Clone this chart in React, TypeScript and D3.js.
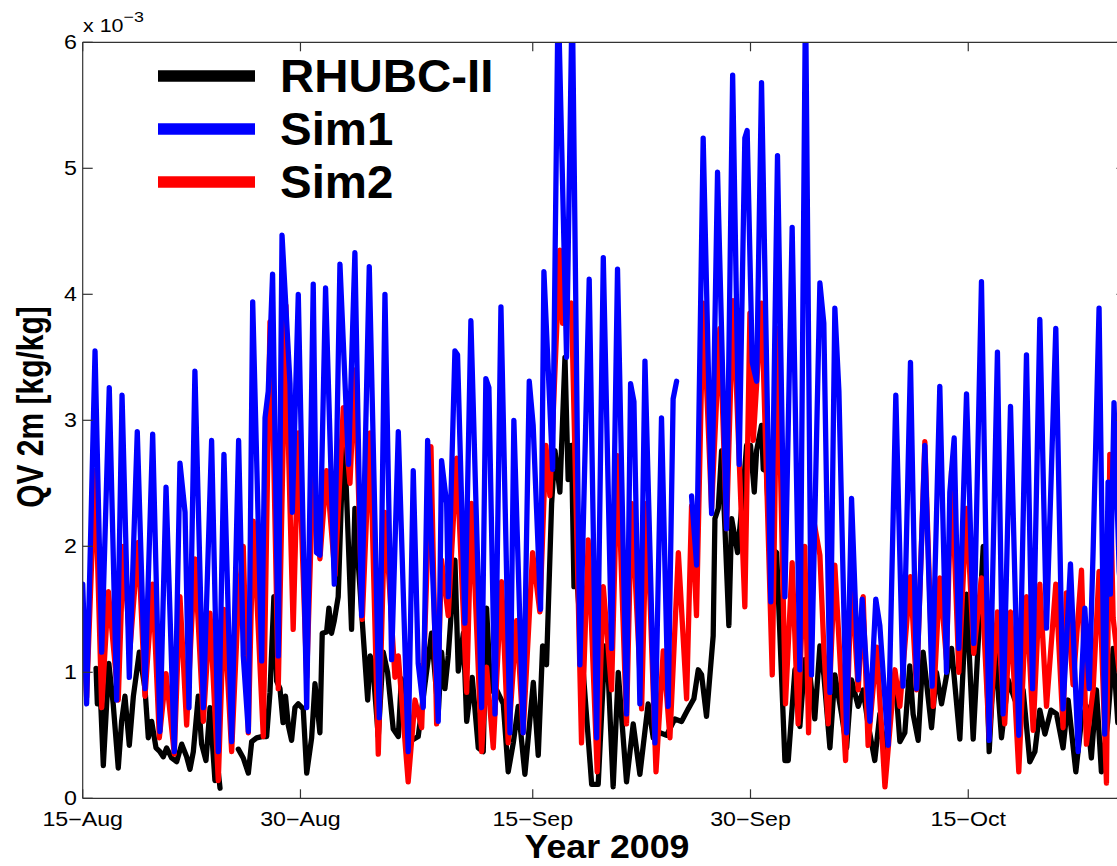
import React from 'react';
import * as d3 from 'd3';

// ---- data (values in units of 1e-3 kg/kg; time in days since 15-Aug-2009 00:00 UTC) ----
const START_UTC = Date.UTC(2009, 7, 15);
const X_END_DAYS = 71.9;

const Y_TICKS = [0, 1, 2, 3, 4, 5, 6];
const X_TICK_DATES = ['2009-08-15', '2009-08-30', '2009-09-15', '2009-09-30', '2009-10-15'];
const X_TICK_LABELS = ['15\u2212Aug', '30\u2212Aug', '15\u2212Sep', '30\u2212Sep', '15\u2212Oct'];
const SERIES_NAMES = ['RHUBC-II', 'Sim1', 'Sim2'];
const SERIES_COLORS = ['#000000', '#0000ff', '#ff0000'];

// RHUBC-II observations (null = missing data)
const obsDays = [
  0.92, 1.01, 1.15, 1.42, 1.8, 2.1, 2.45, 2.68, 2.91, 3.21, 3.49, 3.9, 4.29, 4.52, 4.75, 5.05, 5.32, 5.55, 5.78, 6.13,
  6.47, 6.82, 7.16, 7.39, 7.62, 7.96, 8.19, 8.49, 8.77, 9.11, 9.34, 9.46, 10.1, 10.72, 11.06, 11.41, 11.64, 11.98, 12.33, 12.67,
  12.9, 13.17, 13.36, 13.59, 13.8, 13.97, 14.16, 14.39, 14.62, 14.85, 15.19, 15.43, 15.77, 16.0, 16.34, 16.5, 16.8, 16.96, 17.14, 17.33,
  17.6, 17.83, 18.02, 18.25, 18.52, 18.75, 18.93, 19.2, 19.63, 19.8, 19.97, 20.36, 20.7, 21.0, 21.39, 21.74, 21.95, 22.19, 22.65, 23.11,
  23.57, 24.03, 24.49, 24.72, 24.95, 25.18, 25.64, 25.87, 26.22, 26.45, 26.83, 27.25, 27.59, 27.82, 28.1, 28.51, 28.97, 29.31, 29.66, 30.0,
  30.46, 31.04, 31.38, 31.68, 31.95, 32.3, 32.53, 32.87, 33.22, 33.44, 33.67, 33.84, 34.07, 34.48, 35.06, 35.51, 35.97, 36.2, 36.54, 36.89,
  37.23, 37.46, 37.92, 38.38, 38.95, 39.3, 39.76, 40.22, 40.79, 41.25, 41.71, 42.1, 42.4, 42.63, 42.97, 43.43, 43.55, 43.78, 44.01, 44.24,
  44.51, 44.7, 45.11, 45.39, 45.73, 46.0, 46.26, 46.42, 46.76, 46.88, 47.1, 47.34, 47.8, 48.37, 48.6, 49.06, 49.4, 49.74, 50.09, 50.43,
  50.78, 51.05, 51.47, 51.81, 52.27, 52.62, 52.96, 53.42, 53.76, 54.1, 54.56, 54.91, 55.26, 55.6, 55.95, 56.29, 56.63, 56.97, 57.2, 57.55,
  57.89, 58.47, 58.81, 59.16, 59.5, 59.85, 60.42, 60.88, 61.34, 62.03, 62.44, 62.83, 63.29, 63.75, 64.21, 64.78, 65.24, 65.59, 65.93, 66.28,
  66.7, 67.08, 67.53, 67.88, 68.41, 68.8, 69.14, 69.48, 69.83, 70.17, 70.6, 70.98, 71.3, 71.9,
];
const obsVals: (number | null)[] = [
  1.03, 0.75, 1.01, 0.26, 1.07, 0.75, 0.24, 0.61, 0.81, 0.42, 0.81, 1.16, 0.87, 0.48, 0.61, 0.40, 0.37, 0.33, 0.40, 0.32,
  0.29, 0.43, 0.33, 0.23, 0.37, 0.81, 0.43, 0.30, 0.72, 0.14, 0.21, 0.08, null, 0.39, 0.32, 0.20, 0.45, 0.48, 0.49, 0.49,
  0.84, 1.60, 0.93, 0.87, 0.60, 0.81, 0.58, 0.46, 0.72, 0.75, 0.71, 0.20, 0.48, 0.91, 0.52, 1.31, 1.32, 1.51, 1.31, 1.41,
  1.60, 2.41, 2.86, 2.18, 1.34, 2.30, 1.95, 1.50, 0.78, 1.13, 1.07, 0.49, 1.16, 1.00, 0.55, 0.49, 0.95, 0.61, 0.46, 0.49,
  0.90, 1.31, 0.67, 1.16, 0.87, 1.13, 1.89, 1.01, 1.31, 0.61, 0.96, 0.40, 0.37, 1.51, 0.85, 0.86, 0.75, 0.21, 0.44, 0.73,
  0.19, 0.92, 0.34, 1.21, 1.06, 2.34, 2.76, 2.43, 3.50, 2.53, 2.80, 1.68, 1.70, 1.00, 0.11, 0.11, 1.21, 0.98, 0.09, 1.00,
  0.48, 0.13, 0.59, 0.19, 0.75, 0.48, 0.52, 0.50, 0.63, 0.61, 0.71, 0.79, 1.02, 0.98, 0.65, 1.29, 2.22, 2.30, 2.76, 2.14,
  1.37, 2.22, 1.95, 2.30, 2.80, 2.80, 2.43, 2.76, 2.96, 2.61, 2.60, 1.99, 1.95, 0.30, 0.30, 1.02, 0.57, 1.10, 0.98, 0.63,
  1.21, 0.98, 0.40, 0.98, 0.67, 0.40, 0.94, 0.73, 0.86, 0.59, 0.30, 0.67, 0.30, 0.79, 0.98, 0.45, 0.52, 1.05, 0.67, 0.46,
  1.16, 0.56, 1.00, 0.75, 0.97, 1.19, 0.47, 1.62, 0.47, 2.00, 0.37, 1.21, 0.48, 0.94, 0.78, 0.86, 0.29, 0.37, 0.70, 0.51,
  0.70, 0.67, 0.40, 0.78, 0.21, 0.62, 0.73, 0.32, 0.86, 0.21, 0.60, 1.19, 0.60, 0.80,
];

// Sim1
const sim1Days = [
  0.0, 0.27, 0.85, 1.31, 1.83, 2.34, 2.71, 3.21, 3.76, 4.29, 4.82, 5.32, 5.74, 6.31, 6.7, 7.05, 7.32, 7.73, 8.31, 8.88,
  9.34, 9.73, 10.26, 10.74, 11.06, 11.41, 11.71, 12.33, 12.56, 12.78, 13.08, 13.47, 13.73, 14.28, 14.44, 14.85, 15.43, 15.88, 16.11, 16.34,
  16.73, 17.33, 17.72, 18.31, 18.75, 19.21, 19.74, 20.43, 20.82, 21.28, 21.74, 22.42, 22.77, 23.11, 23.46, 23.76, 24.49, 24.72, 25.07, 25.18,
  25.64, 25.82, 26.33, 26.74, 27.48, 27.77, 27.98, 28.4, 28.81, 29.43, 29.7, 30.34, 30.76, 31.03, 31.54, 31.77, 32.37, 32.75, 33.33, 33.72,
  34.25, 34.89, 35.4, 35.86, 36.43, 36.84, 37.46, 37.74, 37.97, 38.38, 38.73, 39.42, 39.87, 40.33, 40.67, 40.91, 41.4, 41.94, 42.29, 42.74,
  43.32, 43.73, 44.35, 44.77, 45.22, 45.61, 45.77, 46.12, 46.42, 46.76, 47.4, 47.86, 48.37, 48.87, 49.4, 49.79, 50.2, 50.78, 51.05, 51.47,
  51.81, 52.09, 52.62, 52.96, 53.42, 53.69, 54.22, 54.63, 54.91, 55.48, 56.01, 56.51, 57.02, 57.44, 58.01, 58.51, 59.04, 59.5, 59.73, 60.03,
  60.35, 60.88, 61.38, 61.91, 62.44, 63.01, 63.4, 63.91, 64.48, 65.01, 65.43, 65.93, 66.39, 67.03, 67.53, 68.04, 68.57, 69.03, 69.33, 69.6,
  70.01, 70.4, 70.63, 70.79, 71.04, 71.4, 71.9,
];
const sim1Vals: (number | null)[] = [
  1.70, 0.75, 3.55, 1.16, 3.26, 0.78, 3.20, 0.96, 2.91, 0.87, 2.89, 0.53, 2.47, 0.37, 2.66, 2.27, 0.72, 3.39, 0.72, 2.84,
  0.37, 2.73, 0.45, 2.84, 1.13, 0.53, 3.94, 1.09, 3.02, 3.23, 4.16, 1.13, 4.47, 3.29, 2.27, 4.00, 0.72, 4.08, 1.95, 1.93,
  4.05, 1.70, 4.24, 2.65, 4.33, 1.45, 4.22, 0.64, 4.00, 1.10, 2.91, 0.37, 2.60, 1.07, 0.72, 2.84, 0.61, 2.68, 2.34, 1.60,
  3.55, 3.52, 1.39, 3.79, 0.72, 3.33, 3.26, 0.67, 3.90, 0.52, 3.00, 0.52, 3.31, 2.96, 1.50, 4.18, 2.61, 6.40, 3.50, 6.40,
  1.06, 4.12, 0.48, 4.29, 1.19, 4.20, 0.67, 3.29, 3.15, 0.75, 3.47, 0.44, 3.02, 0.73, 3.17, 3.31, null, 2.40, 1.85, 5.24,
  2.26, 4.97, 2.14, 5.74, 2.65, 5.24, 5.30, 3.46, 3.31, 5.68, 1.56, 5.10, 1.60, 4.53, 1.02, 6.40, 0.98, 4.09, 3.77, 0.84,
  3.89, 3.23, 0.52, 2.38, 0.94, 1.58, 0.61, 1.58, 1.37, 0.42, 3.20, 0.89, 3.46, 0.87, 2.80, 0.89, 3.27, 1.00, 2.43, 2.86,
  1.19, 3.21, 1.23, 4.10, 0.46, 3.54, 0.67, 3.11, 0.50, 3.52, 0.87, 3.80, 1.35, 3.73, 0.71, 1.86, 0.37, 1.51, 0.87, 1.96,
  3.89, 0.51, 2.51, 1.62, 3.14, 1.80, 1.20,
];

// Sim2
const sim2Days = [
  0.0, 0.27, 0.85, 1.31, 1.77, 2.45, 2.8, 3.26, 3.83, 4.29, 4.82, 5.28, 5.74, 6.31, 6.7, 7.16, 7.73, 8.31, 8.77, 9.34,
  9.73, 10.26, 10.74, 11.06, 11.41, 11.75, 12.44, 12.9, 13.08, 13.47, 14.0, 14.2, 14.5, 14.85, 15.43, 15.88, 16.34, 16.8, 17.38, 17.95,
  18.41, 18.75, 19.26, 19.79, 20.36, 20.82, 21.51, 21.74, 22.42, 22.89, 23.35, 23.99, 24.38, 24.72, 25.18, 25.76, 26.45, 26.79, 27.48, 27.82,
  28.28, 28.85, 29.31, 29.89, 30.34, 30.99, 31.49, 31.91, 32.18, 32.87, 33.05, 33.67, 34.36, 34.82, 35.44, 35.86, 36.43, 36.84, 37.46, 37.81,
  38.5, 38.85, 39.49, 39.99, 40.45, 41.03, 41.6, 41.94, 42.28, 42.74, 43.32, 43.89, 44.35, 44.8, 45.61, 45.96, 46.19, 46.76, 47.5, 47.86,
  48.41, 48.87, 49.28, 49.74, 50.0, 50.3, 50.78, 51.05, 51.35, 51.81, 52.55, 52.96, 53.42, 53.76, 54.1, 54.7, 55.26, 55.95, 56.29, 57.02,
  57.44, 58.01, 58.59, 59.04, 59.5, 59.85, 60.35, 60.88, 61.38, 61.91, 62.44, 63.01, 63.51, 63.91, 64.48, 65.01, 65.47, 65.93, 66.39, 67.03,
  67.53, 67.76, 68.22, 68.8, 69.14, 69.6, 70.01, 70.52, 70.75, 70.98, 71.4, 71.9,
];
const sim2Vals: (number | null)[] = [
  1.50, 0.80, 2.60, 0.72, 1.64, 0.78, 2.00, 1.19, 2.03, 0.81, 1.70, 0.48, 0.99, 0.35, 1.60, 0.58, 1.90, 0.61, 1.47, 0.14,
  1.50, 0.37, 1.60, 2.00, 0.52, 2.20, 0.49, 3.78, 3.17, 0.87, 3.91, 2.66, 1.34, 2.90, 0.96, 2.60, 1.90, 2.60, 1.77, 3.10,
  2.50, 3.40, 1.42, 2.90, 0.35, 2.27, 0.96, 1.13, 0.13, 0.78, 0.56, 2.79, 0.59, 1.89, 1.45, 2.70, 0.84, 2.34, 0.37, 1.04,
  0.40, 1.72, 0.44, 1.41, 0.52, 1.95, 1.48, 2.80, 2.40, 4.35, 3.77, 3.93, 0.44, 2.05, 0.21, 1.68, 0.86, 2.72, 0.59, 2.34,
  0.71, 2.34, 0.21, 1.17, 0.48, 1.95, 0.79, 2.32, 1.45, 3.93, 2.30, 3.73, 2.14, 3.95, 1.52, 3.85, 2.84, 3.93, 0.98, 3.73,
  0.75, 1.87, 0.59, 2.00, 0.52, 2.24, 1.93, 1.20, 0.59, 1.85, 0.30, 1.75, 0.86, 1.60, 0.42, 1.20, 0.09, 1.02, 0.73, 1.76,
  0.86, 2.83, 0.73, 1.75, 1.10, 2.60, 1.00, 2.30, 1.15, 1.75, 0.48, 1.48, 0.59, 1.48, 0.21, 1.60, 0.54, 1.70, 0.73, 1.70,
  0.56, 1.63, 0.90, 1.81, 0.43, 0.86, 1.80, 0.12, 2.73, 1.43, 1.00, 0.80,
];

// ---- layout ----
const W = 1117;
const H = 866;
const M = { left: 82.7, right: 1126.5, top: 42.3, bottom: 798.3 };
const FONT = '"Liberation Sans", Arial, Helvetica, sans-serif';
const AXIS_COLOR = '#333333';

const dayToDate = (d: number) => new Date(START_UTC + d * 86400000);

export default function App() {
  const x = d3
    .scaleUtc()
    .domain([dayToDate(0), dayToDate(X_END_DAYS)])
    .range([M.left, M.right]);
  const y = d3.scaleLinear().domain([0, 6]).range([M.bottom, M.top]);

  const line = d3
    .line<[number, number | null]>()
    .defined((d) => d[1] !== null)
    .x((d) => x(dayToDate(d[0])))
    .y((d) => y(d[1] as number));

  const zip = (days: number[], vals: (number | null)[]) =>
    days.map((d, i) => [d, vals[i]] as [number, number | null]);

  const series = [
    { name: SERIES_NAMES[0], color: SERIES_COLORS[0], data: zip(obsDays, obsVals) },
    { name: SERIES_NAMES[2], color: SERIES_COLORS[2], data: zip(sim2Days, sim2Vals) },
    { name: SERIES_NAMES[1], color: SERIES_COLORS[1], data: zip(sim1Days, sim1Vals) },
  ];

  const xTicks = X_TICK_DATES.map((s) => new Date(s + 'T00:00:00Z'));
  const legendY = [76, 129, 182];

  return (
    <svg
      width={W}
      height={H}
      style={{ position: 'absolute', left: 0, top: 0, background: '#fff' }}
      fontFamily={FONT}
    >
      <defs>
        <clipPath id="plotClip">
          <rect x={M.left} y={M.top} width={M.right - M.left} height={M.bottom - M.top} />
        </clipPath>
      </defs>
      <rect x={0} y={0} width={W} height={H} fill="#fff" />

      {/* data lines */}
      <g clipPath="url(#plotClip)">
        {series.map((s) => (
          <path
            key={s.name}
            d={line(s.data) || ''}
            fill="none"
            stroke={s.color}
            strokeWidth={5.3}
            strokeLinejoin="round"
            strokeLinecap="round"
          />
        ))}
      </g>

      {/* axes box */}
      <g stroke={AXIS_COLOR} strokeWidth={1.2} fill="none">
        <line x1={M.left} x2={M.right} y1={M.top} y2={M.top} />
        <line x1={M.left} x2={M.right} y1={M.bottom} y2={M.bottom} />
        <line x1={M.left} x2={M.left} y1={M.top} y2={M.bottom} />
        <line x1={M.right} x2={M.right} y1={M.top} y2={M.bottom} />
        {Y_TICKS.map((t) => (
          <g key={'yt' + t}>
            <line x1={M.left} x2={M.left + 10} y1={y(t)} y2={y(t)} />
            <line x1={M.right - 10} x2={M.right} y1={y(t)} y2={y(t)} />
          </g>
        ))}
        {xTicks.map((t, i) => (
          <g key={'xt' + i}>
            <line x1={x(t)} x2={x(t)} y1={M.bottom} y2={M.bottom - 9} />
            <line x1={x(t)} x2={x(t)} y1={M.top} y2={M.top + 9} />
          </g>
        ))}
      </g>

      {/* y tick labels */}
      {Y_TICKS.map((t) => (
        <g key={'yl' + t} transform={`translate(77,${y(t)}) scale(1.19,1)`}>
          <text textAnchor="end" dy="0.36em" fontSize={19.5} fill="#000">
            {t}
          </text>
        </g>
      ))}

      {/* x tick labels */}
      {xTicks.map((t, i) => (
        <g key={'xl' + i} transform={`translate(${x(t)},826) scale(1.19,1)`}>
          <text textAnchor="middle" fontSize={19.5} fill="#000">
            {X_TICK_LABELS[i]}
          </text>
        </g>
      ))}

      {/* exponent */}
      <g transform={`translate(83,32.3) scale(1.19,1)`}>
        <text fontSize={18} fill="#000">
          x 10
          <tspan dy={-10} fontSize={15}>
            {'\u22123'}
          </tspan>
        </text>
      </g>

      {/* axis titles */}
      <g transform={`translate(607,858) scale(1.05,1)`}>
        <text textAnchor="middle" fontSize={34} fontWeight="bold" fill="#000">
          Year 2009
        </text>
      </g>
      <g transform={`translate(42.7,407) scale(1.2,1) rotate(-90)`}>
        <text textAnchor="middle" fontSize={30} fontWeight="bold" fill="#000">
          QV 2m [kg/kg]
        </text>
      </g>

      {/* legend */}
      {SERIES_NAMES.map((n, i) => (
        <g key={'lg' + n}>
          <line x1={158} x2={255} y1={legendY[i]} y2={legendY[i]} stroke={SERIES_COLORS[i]} strokeWidth={11.5} />
          <g transform={`translate(280,${legendY[i] + 15.7}) scale(1.02,1)`}>
            <text fontSize={46.5} fontWeight="bold" fill="#000">
              {n}
            </text>
          </g>
        </g>
      ))}
    </svg>
  );
}
